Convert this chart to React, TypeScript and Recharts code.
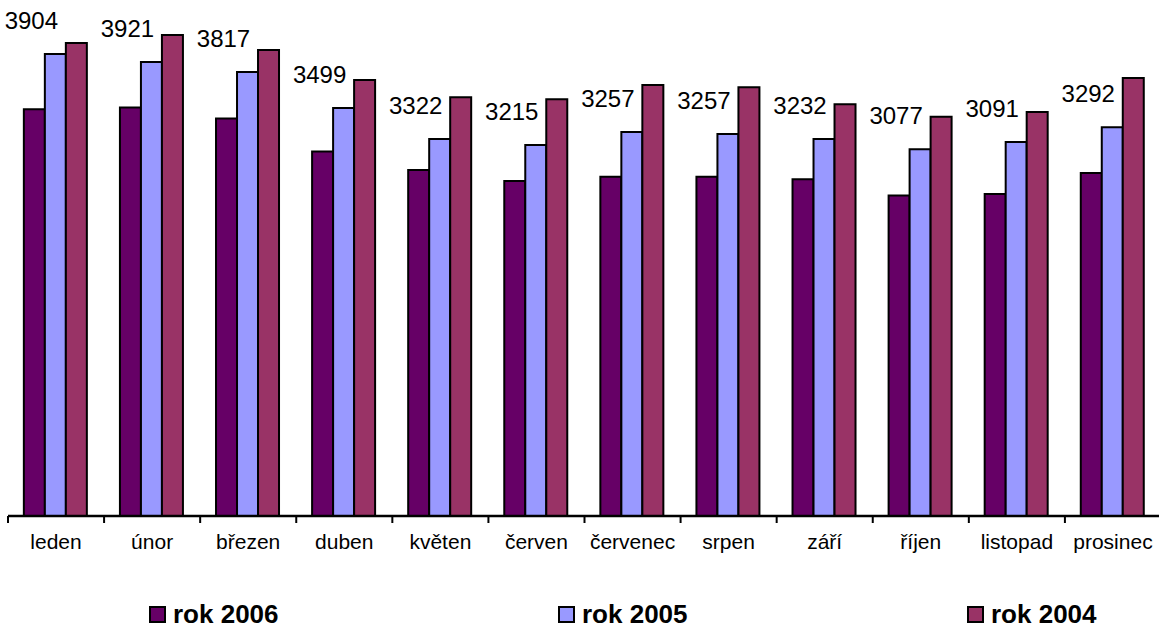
import { BarChart, Bar, XAxis, YAxis, Legend, LabelList } from "recharts";

const months = [
	"leden",
	"únor",
	"březen",
	"duben",
	"květen",
	"červen",
	"červenec",
	"srpen",
	"září",
	"říjen",
	"listopad",
	"prosinec",
];
const years = ["rok 2006", "rok 2005", "rok 2004"];
const rok2006 = [3904, 3921, 3817, 3499, 3322, 3215, 3257, 3257, 3232, 3077, 3091, 3292];
const rok2005 = [4435, 4358, 4262, 3917, 3619, 3562, 3686, 3667, 3619, 3520, 3590, 3731];
const rok2004 = [4541, 4618, 4474, 4186, 4020, 4000, 4138, 4116, 3952, 3833, 3878, 4205];

const data = months.map((month, i) => ({
	month,
	[years[0]]: rok2006[i],
	[years[1]]: rok2005[i],
	[years[2]]: rok2004[i],
}));

const WIDTH = 1159;
const HEIGHT = 628;
// bottom margin excludes the 30px the x axis takes for itself
const margin = { top: 16, right: -2, left: 8, bottom: 82 };
const band = (WIDTH - margin.left - margin.right) / months.length;
const font = '"Liberation Sans", Arial, sans-serif';

// month names, with tick marks on the category boundaries instead of the centres
function MonthTick(props: any) {
	const { x, y, payload, index } = props;
	const axisY = y - 8;
	const left = x - band / 2;
	return (
		<g>
			<line x1={left} x2={left} y1={axisY} y2={axisY + 7} stroke="#000" strokeWidth={2} />
			{index === months.length - 1 && (
				<line
					x1={left + band}
					x2={left + band}
					y1={axisY}
					y2={axisY + 7}
					stroke="#000"
					strokeWidth={2}
				/>
			)}
			<text
				x={x}
				y={axisY + 33}
				textAnchor="middle"
				fontSize={21}
				fontFamily={font}
				fill="#000"
			>
				{payload.value}
			</text>
		</g>
	);
}

// 2006 value, lifted above the neighbouring 2005 bar
function ValueLabel(props: any) {
	const vb = props.viewBox ?? props;
	const x = vb.x ?? props.x;
	const y = vb.y ?? props.y;
	const width = vb.width ?? props.width;
	const height = vb.height ?? props.height;
	const i = Math.floor((x - margin.left) / band);
	const value = rok2006[i];
	const base = y + height;
	const top2005 = base - (height * rok2005[i]) / value;
	return (
		<text
			x={x + width / 2 - 3}
			y={top2005 - 25}
			textAnchor="middle"
			fontSize={24}
			fontFamily={font}
			fill="#000"
		>
			{value}
		</text>
	);
}

function YearLegend({ payload }: any) {
	const items = [...(payload ?? [])].sort(
		(a: any, b: any) => years.indexOf(a.value) - years.indexOf(b.value)
	);
	return (
		<div style={{ display: "flex", paddingLeft: 149, fontFamily: font }}>
			{items.map((p: any, i: number) => (
				<div
					key={p.value}
					style={{
						width: i < items.length - 1 ? 409 : "auto",
						flexShrink: 0,
						display: "flex",
						alignItems: "center",
					}}
				>
					<span
						style={{
							width: 17,
							height: 17,
							boxSizing: "border-box",
							background: p.color,
							border: "2px solid #000",
						}}
					/>
					<span
						style={{
							marginLeft: 7,
							fontWeight: "bold",
							fontSize: 26,
							color: "#000",
							lineHeight: "24px",
						}}
					>
						{p.value}
					</span>
				</div>
			))}
		</div>
	);
}

export default function App() {
	return (
		<div
			style={{
				position: "absolute",
				top: 0,
				left: 0,
				width: WIDTH,
				height: HEIGHT,
				overflow: "hidden",
				background: "#fff",
			}}
		>
			<BarChart
				width={WIDTH}
				height={HEIGHT}
				data={data}
				margin={margin}
				barCategoryGap="16.5%"
				barGap={0}
			>
				<XAxis
					dataKey="month"
					axisLine={{ stroke: "#000", strokeWidth: 2.5 }}
					tickLine={false}
					tickSize={6}
					tickMargin={2}
					interval={0}
					tick={<MonthTick />}
				/>
				<YAxis hide domain={[0, 4800]} />
				<Legend
					layout="horizontal"
					verticalAlign="middle"
					align="center"
					content={<YearLegend />}
					wrapperStyle={{ top: 602, left: 0, width: WIDTH, height: 24 }}
				/>
				<Bar
					dataKey={years[0]}
					fill="#660066"
					stroke="#000"
					strokeWidth={2}
					isAnimationActive={false}
				>
					<LabelList dataKey={years[0]} content={<ValueLabel />} />
				</Bar>
				<Bar
					dataKey={years[1]}
					fill="#9999ff"
					stroke="#000"
					strokeWidth={2}
					isAnimationActive={false}
				/>
				<Bar
					dataKey={years[2]}
					fill="#993366"
					stroke="#000"
					strokeWidth={2}
					isAnimationActive={false}
				/>
			</BarChart>
		</div>
	);
}
